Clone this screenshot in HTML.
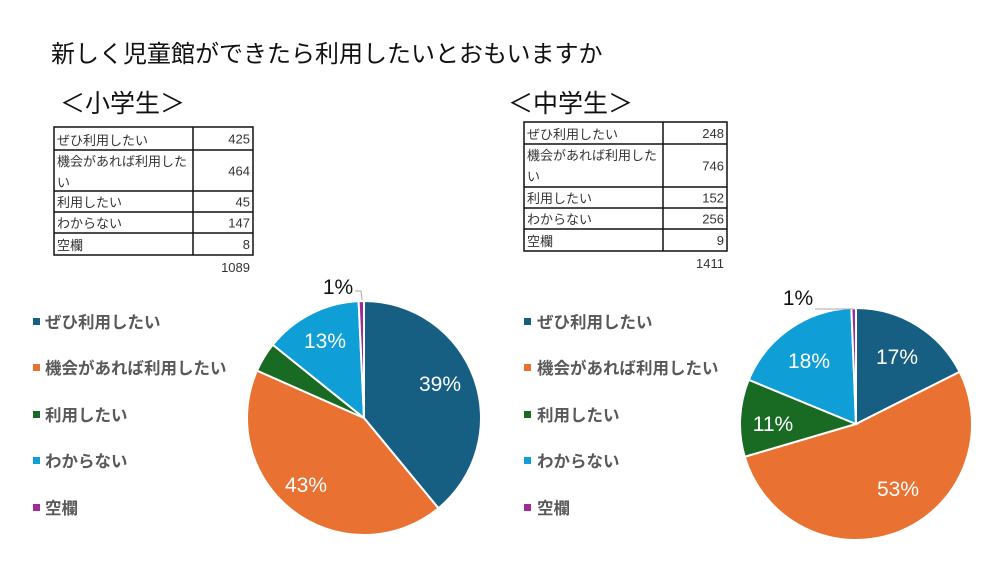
<!DOCTYPE html>
<html><head><meta charset="utf-8"><style>
html,body{margin:0;padding:0;background:#fff;}
svg{display:block;font-family:"Liberation Sans","Noto Sans CJK JP",sans-serif;}
</style></head><body>
<svg id="s" width="1000" height="563" viewBox="0 0 1000 563" xmlns="http://www.w3.org/2000/svg">
<text x="51" y="62" font-size="24" fill="#111">新しく児童館ができたら利用したいとおもいますか</text>
<text x="60" y="112" font-size="25" fill="#111">＜小学生＞</text>
<text x="508" y="112" font-size="25" fill="#111">＜中学生＞</text>
<g id="t1" font-size="13" fill="#333" stroke="none"></g>
<g id="p1"></g><g id="p2"></g>
<g id="lg" font-size="16.5" font-weight="bold" fill="#595959"></g>
<g font-size="21" fill="#fff">
<text x="440" y="391" text-anchor="middle">39%</text>
<text x="306" y="492" text-anchor="middle">43%</text>
<text x="325" y="348" text-anchor="middle">13%</text>
<text x="897" y="364" text-anchor="middle">17%</text>
<text x="898" y="496" text-anchor="middle">53%</text>
<text x="773" y="431" text-anchor="middle">11%</text>
<text x="809" y="368" text-anchor="middle">18%</text>
</g>
<g font-size="21" fill="#111">
<text x="338" y="294" text-anchor="middle">1%</text>
<text x="798" y="305" text-anchor="middle">1%</text>
</g>
<polyline points="355,291 361,291 362,300" fill="none" stroke="#aaa" stroke-width="1"/>
<polyline points="815,309 853,309 854,310" fill="none" stroke="#aaa" stroke-width="1"/>
</svg>
<script>
const NS="http://www.w3.org/2000/svg";
const cols=["#175E83","#E97132","#196B24","#0F9ED5","#A02B93"];
const names=["ぜひ利用したい","機会があれば利用したい","利用したい","わからない","空欄"];
function el(p,tag,a,txt){const e=document.createElementNS(NS,tag);for(const k in a)e.setAttribute(k,a[k]);if(txt!=null)e.textContent=txt;document.getElementById(p).appendChild(e);return e;}
function pie(id,cx,cy,r,vals){const tot=vals.reduce((a,b)=>a+b,0);let a=0;
vals.forEach((v,i)=>{const a2=a+v/tot*2*Math.PI;
const x1=cx+r*Math.sin(a),y1=cy-r*Math.cos(a),x2=cx+r*Math.sin(a2),y2=cy-r*Math.cos(a2);
el(id,"path",{d:`M${cx},${cy}L${x1},${y1}A${r},${r} 0 ${a2-a>Math.PI?1:0} 1 ${x2},${y2}Z`,fill:cols[i],stroke:"#fff","stroke-width":2});a=a2;});}
pie("p1",364,418,117,[425,464,45,147,8]);
pie("p2",856,424,116,[248,746,152,256,9]);
function table(x0,xd,x1,rows,vals,tot){
 const L={stroke:"#111","stroke-width":1.5};
 el("t1","rect",{x:x0,y:rows[0],width:x1-x0,height:rows[5]-rows[0],fill:"none",...L});
 el("t1","line",{x1:xd,y1:rows[0],x2:xd,y2:rows[5],...L});
 for(let i=1;i<5;i++)el("t1","line",{x1:x0,y1:rows[i],x2:x1,y2:rows[i],...L});
 for(let i=0;i<5;i++){
  const yb=rows[i+1],yt=rows[i];
  if(i==1){el("t1","text",{x:x0+3,y:yt+16},"機会があれば利用した");el("t1","text",{x:x0+3,y:yt+37},"い");}
  else el("t1","text",{x:x0+3,y:yb-5},names[i]);
  el("t1","text",{x:x1-3,y:(yt+yb)/2+5,"text-anchor":"end"},vals[i]);
 }
 el("t1","text",{x:x1-3,y:rows[5]+17,"text-anchor":"end"},tot);
}
table(54,193,253,[127,150,191,212,233,255],[425,464,45,147,8],1089);
table(524,663,727,[122,144,187,208,229,251],[248,746,152,256,9],1411);
const ly=[322,368,415,461,508];
[[33,45],[524,537]].forEach(([mx,tx])=>ly.forEach((y,i)=>{el("lg","rect",{x:mx,y:y-4,width:7,height:7,fill:cols[i]});el("lg","text",{x:tx,y:y+6},names[i]);}));
</script>
</body></html>
